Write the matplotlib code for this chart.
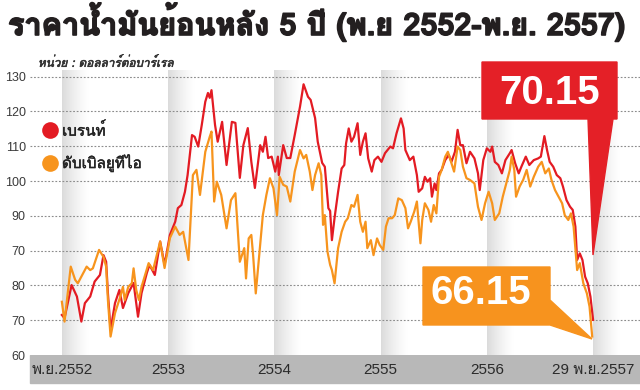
import matplotlib
matplotlib.use('Agg')
import matplotlib.pyplot as plt
import matplotlib.patheffects as pe
from matplotlib import font_manager
from matplotlib.ft2font import FT2Font
from matplotlib.lines import Line2D
from matplotlib.patches import Rectangle, Polygon
from matplotlib.transforms import Affine2D
import numpy as np

# find a family that has Thai glyphs
thai = []
for f in font_manager.fontManager.ttflist:
    try:
        if 0x0E01 in FT2Font(f.fname).get_charmap() and f.name not in thai:
            thai.append(f.name)
    except Exception:
        pass
names = {f.name for f in font_manager.fontManager.ttflist}
narrow = 'Liberation Sans Narrow' if 'Liberation Sans Narrow' in names else 'Liberation Sans'
TH = thai[:1] + ['DejaVu Sans']
NUM = [narrow] + TH

RED = '#e31b23'
ORANGE = '#f7941d'

TITLE = 'ราคาน้ำมันย้อนหลัง 5 ปี (พ.ย 2552-พ.ย. 2557)'
UNIT = 'หน่วย : ดอลลาร์ต่อบาร์เรล'
SERIES = ['เบรนท์', 'ดับเบิลยูทีไอ']
LAST = ['70.15', '66.15']

year_ticks = [0, 12, 24, 36, 48, 60]   # months since Nov 2009
x_labels = ['พ.ย.2552', '2553', '2554', '2555', '2556', '29 พ.ย.2557']
y_ticks = [60, 70, 80, 90, 100, 110, 120, 130, 140]
y_labels = ['60', '70', '80', '70', '90', '100', '110', '120', '130']  # as printed

# Brent, months since Nov 2552 and USD/bbl
brent_m = [0, 0.3, 1.1, 1.7, 2.2, 2.6, 3.2, 3.7, 4.3, 4.7,
           5.0, 5.2, 5.5, 6.0, 6.5, 6.9, 7.5, 8.1, 8.6, 9.0,
           9.6, 9.9, 10.5, 11.1, 11.6, 12.2, 12.8, 13.1, 13.5, 13.9,
           14.2, 14.7, 15.0, 15.4, 15.8, 16.2, 16.5, 16.7, 16.9, 17.3,
           17.6, 18.1, 18.6, 19.2, 19.6, 20.1, 20.5, 21.0, 21.4, 21.8,
           22.4, 22.7, 23.0, 23.3, 23.7, 24.1, 24.4, 24.5, 25.0, 25.4,
           25.8, 26.3, 26.9, 27.3, 27.8, 28.1, 28.6, 28.9, 29.4, 29.7,
           30.1, 30.3, 30.5, 30.8, 31.2, 31.6, 31.9, 32.1, 32.4, 32.7,
           33.0, 33.4, 33.7, 34.0, 34.3, 34.6, 35.0, 35.3, 35.7, 36.1,
           36.5, 37.1, 37.4, 37.8, 38.3, 38.6, 38.8, 39.3, 39.7, 40.1,
           40.3, 40.7, 41.0, 41.3, 41.6, 41.8, 42.1, 42.3, 42.6, 42.9,
           43.3, 43.7, 44.0, 44.4, 44.7, 45.0, 45.3, 45.7, 46.1, 46.6,
           47.0, 47.2, 47.6, 48.0, 48.4, 48.6, 48.9, 49.3, 49.7, 50.1,
           50.6, 50.8, 51.2, 51.6, 51.9, 52.4, 52.8, 53.3, 53.8, 54.1,
           54.5, 54.8, 55.1, 55.5, 55.9, 56.3, 56.6, 57.0, 57.4, 57.7,
           58.0, 58.2, 58.5, 58.8, 59.1, 59.4, 59.7, 60.0]
brent = [71.5, 70.6, 80.1, 76.8, 69.6, 74.9, 76.8, 81.1, 83.0, 88.7,
         86.8, 77.8, 67.2, 74.9, 78.7, 73.5, 77.8, 80.7, 71.0, 77.8,
         83.6, 85.9, 83.0, 92.6, 85.9, 94.5, 98.3, 102.2, 103.1, 106.9,
         111.7, 123.2, 122.7, 119.9, 126.1, 132.8, 135.3, 133.9, 136.1, 126.1,
         121.3, 127.0, 114.6, 127.0, 126.7, 110.9, 120.3, 125.2, 115.5, 108.0,
         120.3, 118.4, 122.7, 116.6, 117.0, 112.7, 117.0, 111.7, 120.3, 116.6,
         116.6, 123.2, 131.4, 137.8, 134.2, 133.3, 128.1, 121.3, 115.2, 114.1,
         102.2, 101.4, 93.0, 99.4, 106.9, 113.6, 114.6, 120.8, 125.1, 121.3,
         122.7, 126.6, 117.5, 121.3, 123.7, 116.5, 112.7, 116.0, 117.0, 115.5,
         118.0, 119.9, 119.4, 123.7, 128.0, 125.1, 118.9, 116.0, 117.0, 111.7,
         106.9, 107.9, 111.2, 109.8, 110.8, 105.5, 109.3, 107.4, 112.2, 113.2,
         116.0, 117.5, 115.5, 118.4, 124.7, 120.3, 120.3, 115.1, 118.4, 116.5,
         112.2, 107.4, 116.0, 119.4, 118.4, 119.9, 115.5, 114.6, 112.2, 116.0,
         118.0, 118.9, 115.1, 112.2, 114.1, 117.0, 114.6, 116.0, 116.5, 117.0,
         122.9, 118.9, 115.5, 114.1, 111.7, 110.8, 108.4, 104.5, 102.6, 101.7,
         96.9, 87.3, 89.2, 87.3, 82.5, 80.6, 76.8, 70.1]

# WTI
wti_m = [0, 0.3, 1.0, 1.5, 1.8, 2.8, 3.2, 3.5, 4.2, 4.7,
         5.0, 5.2, 5.5, 6.0, 6.6, 6.9, 7.1, 7.5, 7.9, 8.1,
         8.4, 8.7, 9.0, 9.8, 10.3, 11.1, 11.6, 12.2, 12.8, 13.3,
         13.7, 14.3, 14.8, 15.2, 15.6, 16.2, 16.7, 16.9, 17.2, 17.5,
         18.0, 18.6, 19.1, 19.6, 20.1, 20.6, 20.8, 21.1, 21.4, 21.6,
         21.9, 22.4, 22.7, 23.1, 23.5, 23.9, 24.3, 24.6, 25.0, 25.4,
         25.8, 26.3, 26.9, 27.3, 27.6, 28.0, 28.3, 28.6, 29.0, 29.3,
         29.5, 29.7, 30.0, 30.3, 30.5, 30.8, 31.2, 31.6, 32.0, 32.3,
         32.7, 33.0, 33.4, 33.7, 34.0, 34.3, 34.5, 34.9, 35.2, 35.6,
         35.9, 36.3, 36.6, 36.9, 37.3, 37.6, 38.0, 38.4, 38.8, 39.1,
         39.4, 39.8, 40.1, 40.5, 40.7, 41.0, 41.4, 41.7, 42.0, 42.3,
         42.6, 42.9, 43.3, 43.6, 44.0, 44.3, 44.7, 45.0, 45.3, 45.7,
         46.1, 46.6, 47.0, 47.4, 47.8, 48.2, 48.6, 48.9, 49.4, 49.8,
         50.1, 50.6, 50.8, 51.1, 51.3, 51.7, 52.1, 52.5, 52.9, 53.3,
         53.8, 54.2, 54.6, 55.0, 55.3, 55.7, 56.1, 56.5, 56.8, 57.2,
         57.5, 57.8, 58.2, 58.5, 58.9, 59.3, 59.6, 59.9]
wti = [75.3, 69.6, 85.4, 81.6, 80.6, 85.4, 84.4, 84.9, 90.2, 88.2,
       85.4, 75.8, 65.3, 72.0, 76.8, 79.6, 75.8, 79.6, 80.6, 84.9,
       78.7, 75.8, 79.6, 86.4, 84.4, 92.6, 85.0, 93.6, 96.9, 94.5,
       95.4, 87.3, 111.7, 113.2, 106.0, 118.4, 122.7, 124.2, 104.1, 109.8,
       106.0, 96.4, 104.5, 106.5, 86.8, 90.7, 82.0, 93.5, 94.5, 88.7,
       77.7, 91.6, 100.2, 106.0, 110.8, 107.9, 100.2, 111.2, 108.9, 108.4,
       104.1, 112.7, 118.9, 116.5, 117.5, 112.7, 107.4, 111.7, 115.1, 111.7,
       97.4, 100.2, 89.7, 85.9, 84.4, 80.6, 90.7, 95.4, 98.3, 99.3,
       103.1, 102.6, 106.0, 98.3, 95.4, 98.3, 90.7, 93.0, 88.7, 93.5,
       91.6, 90.2, 96.9, 99.3, 99.3, 100.2, 105.0, 104.5, 102.2, 96.4,
       98.3, 101.2, 104.1, 92.1, 98.8, 103.6, 101.7, 98.3, 103.1, 100.7,
       111.2, 113.2, 117.0, 118.4, 115.1, 112.7, 119.9, 118.9, 114.1, 110.8,
       110.3, 109.3, 102.6, 98.8, 103.6, 106.9, 103.6, 98.8, 100.7, 105.5,
       108.4, 113.2, 117.0, 113.2, 105.5, 108.4, 110.3, 113.2, 108.4, 111.2,
       114.1, 115.5, 112.2, 113.6, 110.3, 107.4, 105.5, 103.6, 100.2, 98.8,
       100.7, 96.9, 84.4, 86.4, 80.6, 77.7, 73.9, 65.3]

fig = plt.figure(figsize=(6.4, 3.9), dpi=100)
px = Affine2D().scale(1 / 640, -1 / 390).translate(0, 1) + fig.transFigure  # pixel coords, top-left origin

ax = fig.add_axes([30 / 640, 35 / 390, 610 / 640, 285 / 390])
ymax = 141.9

# faded grey stripes at each year mark
grad = np.ones((2, 64, 4))
grad[..., :3] = 0.86
grad[..., 3] = np.linspace(1, 0, 64) ** 1.3
for m in year_ticks:
    ax.imshow(grad, extent=[m, m + 3.0, 60, ymax], aspect='auto', zorder=0,
              interpolation='bilinear')

for v in y_ticks[1:]:
    ax.axhline(v, color='#8c8c8c', lw=0.8, ls=(0, (1.6, 1.6)), zorder=1)

ax.plot(brent_m, brent, color=RED, lw=1.6, zorder=3, solid_joinstyle='round')
ax.plot(wti_m, wti, color=ORANGE, lw=1.6, zorder=4, solid_joinstyle='round')

ax.set_xlim(-3.6, 65.3)
ax.set_ylim(60, ymax)
ax.set_yticks(y_ticks, y_labels, family=NUM, fontsize=9, color='#3a3a3a')
ax.set_xticks(year_ticks, x_labels, family=NUM, fontsize=11, color='#2a2a2a')
ax.tick_params(axis='y', length=0, pad=3)
ax.tick_params(axis='x', length=0, pad=6)
for s in ax.spines.values():
    s.set_visible(False)

# grey band behind the x labels
fig.add_artist(Rectangle((30, 355), 610, 28, transform=px, color='#b8b8b8', zorder=-1))

fig.text(8, 22, TITLE, transform=px, family=TH, fontsize=22, fontweight='bold',
         color='#231f20', va='center', ha='left',
         path_effects=[pe.withStroke(linewidth=1.2, foreground='#231f20')])
fig.text(38, 62, UNIT, transform=px, family=TH, fontsize=8.5, style='italic',
         color='#333333', va='center', ha='left',
         path_effects=[pe.withStroke(linewidth=0.4, foreground='#333333')])

# legend
for (label, color, y) in [(SERIES[0], RED, 130), (SERIES[1], ORANGE, 163)]:
    fig.add_artist(Line2D([50], [y], transform=px, marker='o', markersize=12,
                          color=color, markeredgewidth=0))
    fig.text(62, y, label, transform=px, family=TH, fontsize=11, color='#222222',
             va='center', ha='left',
             path_effects=[pe.withStroke(linewidth=0.3, foreground='#222222')])

# callouts
fig.add_artist(Polygon([(482, 62), (617, 62), (617, 119), (613, 119), (593, 255),
                        (588, 119), (482, 119)], closed=True, transform=px,
                       color='#e42027', zorder=5))
fig.text(550, 93, LAST[0], transform=px, family='Liberation Sans', fontsize=29,
         fontweight='bold', color='white', ha='center', va='center', zorder=6)
fig.add_artist(Polygon([(423, 267), (550, 267), (550, 300), (592, 339), (550, 325),
                        (423, 325)], closed=True, transform=px,
                       color='#f7931e', zorder=5))
fig.text(481, 293, LAST[1], transform=px, family='Liberation Sans', fontsize=29,
         fontweight='bold', color='white', ha='center', va='center', zorder=6)

fig.savefig('out.png', dpi=100, facecolor='white')
